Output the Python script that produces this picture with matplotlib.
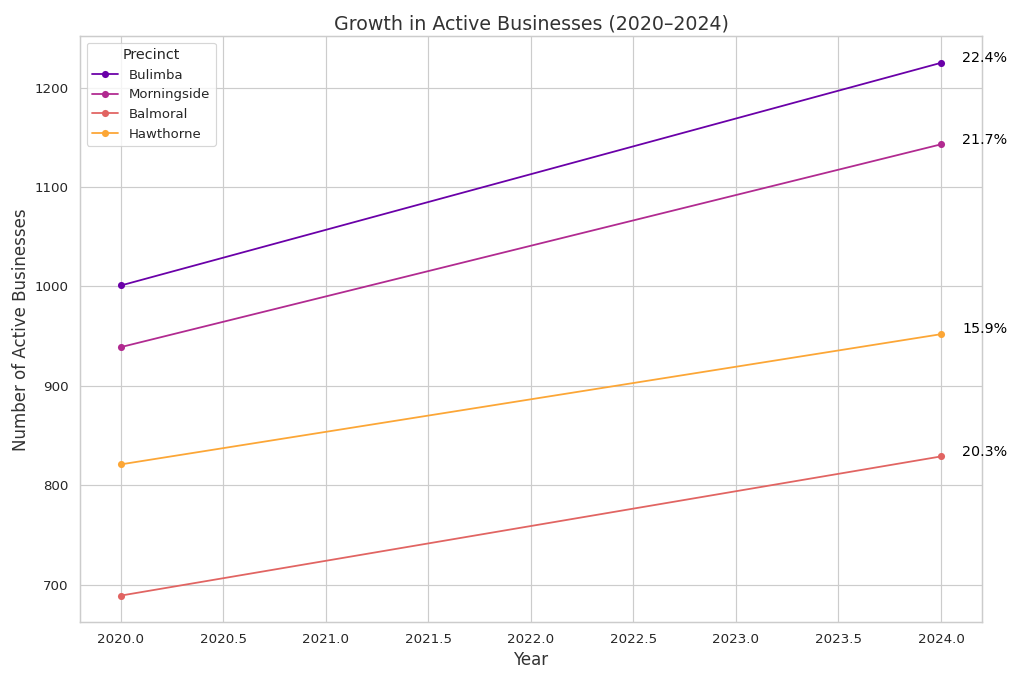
import matplotlib.pyplot as plt
import seaborn as sns
import pandas as pd

years = [2020, 2024]
precincts = ['Bulimba', 'Morningside', 'Balmoral', 'Hawthorne']
start_counts = [1001, 939, 689, 821]
end_counts = [1225, 1143, 829, 952]
growth_labels = ['22.4%', '21.7%', '20.3%', '15.9%']

rows = []
for p, s, e in zip(precincts, start_counts, end_counts):
    rows.append({'Year': years[0], 'Precinct': p, 'Businesses': s})
    rows.append({'Year': years[1], 'Precinct': p, 'Businesses': e})
df = pd.DataFrame(rows)

sns.set_theme(style='whitegrid')
palette = sns.color_palette('plasma', len(precincts))

DPI = 1024 / 12
fig, ax = plt.subplots(figsize=(12, 683 / DPI), dpi=DPI)
sns.lineplot(data=df, x='Year', y='Businesses', hue='Precinct', marker='o',
             palette=palette, ax=ax, markeredgewidth=0)

# growth labels at the right end
for p, e, g in zip(precincts, end_counts, growth_labels):
    ax.annotate(g, xy=(years[1], e), xytext=(18, 4), textcoords='offset points',
                fontsize=12, ha='left', va='center', color='black')

ax.set_title('Growth in Active Businesses (2020–2024)', fontsize=16, color='#333333')
ax.set_xlabel('Year', fontsize=14, color='#333333')
ax.set_ylabel('Number of Active Businesses', fontsize=14, color='#333333')
ax.tick_params(labelsize=11.3)
ax.legend(title='Precinct', loc='upper left', fontsize=11.2, title_fontsize=12.2)

fig.subplots_adjust(left=0.078, right=0.959, top=0.947, bottom=0.089)
fig.savefig('out.png', dpi=DPI)
